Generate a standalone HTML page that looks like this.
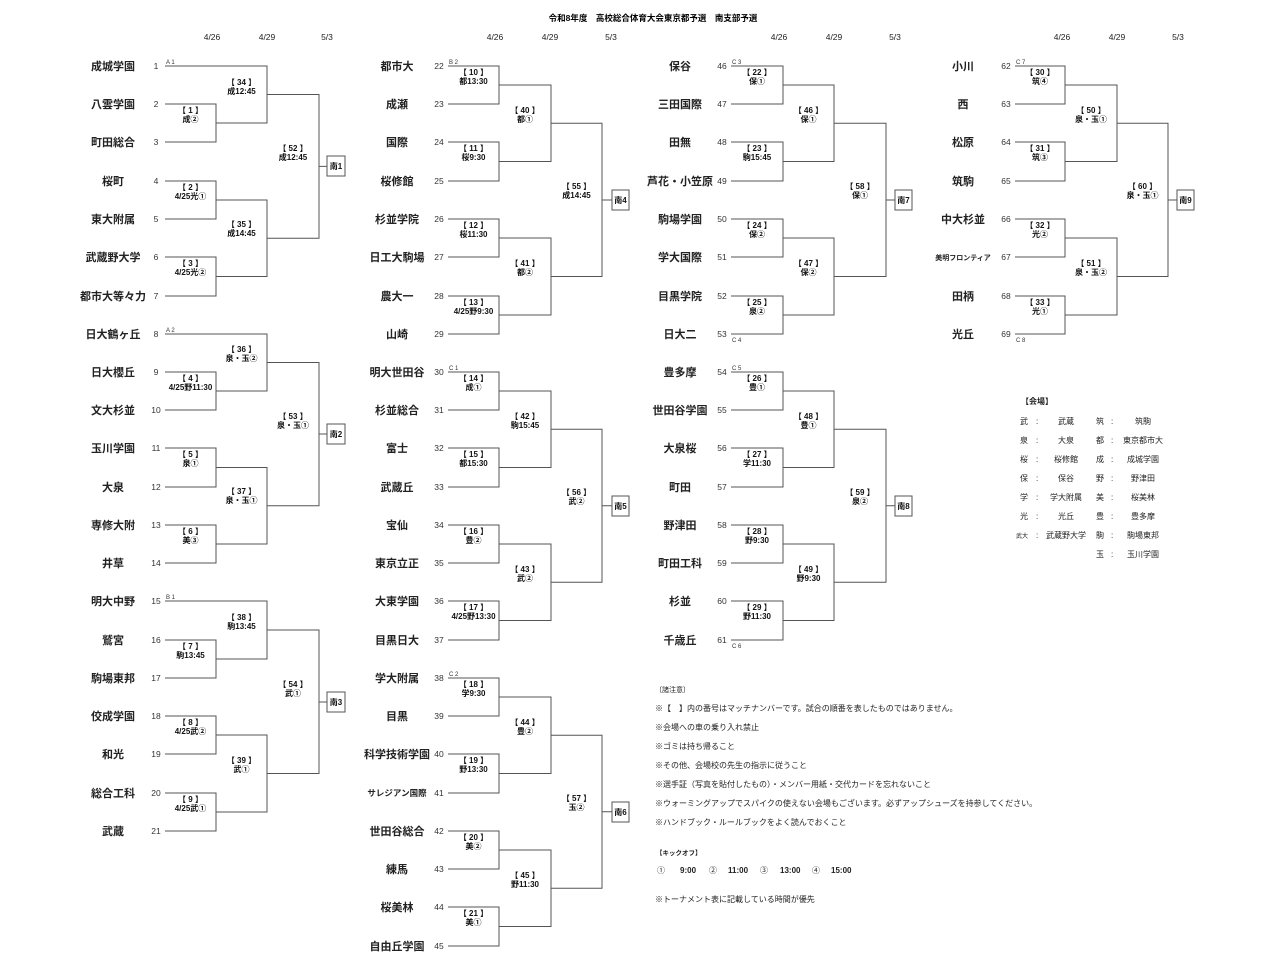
<!DOCTYPE html>
<html><head><meta charset="utf-8"><style>
html,body{margin:0;padding:0;background:#fff;}
svg{display:block;font-family:"Liberation Sans","Noto Sans CJK JP",sans-serif;}
.n{font-size:11px;font-weight:bold;text-anchor:middle;fill:#222}
.s{font-size:7.5px;font-weight:bold;text-anchor:middle;fill:#222}
.k{font-size:8.5px;text-anchor:middle;fill:#333}
.m{font-size:8px;font-weight:bold;text-anchor:middle;fill:#111}
.g{font-size:6px;fill:#333}
.d{font-size:8.5px;text-anchor:middle;fill:#222}
.b{font-size:8px;font-weight:bold;text-anchor:middle;fill:#111}
.t{font-size:8px;fill:#222}
.lg{font-size:8px;fill:#222}
.lc{font-size:8px;fill:#222;text-anchor:middle}
</style></head><body>
<svg width="1280" height="970" viewBox="0 0 1280 970" xmlns="http://www.w3.org/2000/svg">
<text x="653" y="21" style="font-size:8.5px;font-weight:bold;text-anchor:middle">令和8年度　高校総合体育大会東京都予選　南支部予選</text>
<g class="d">
<text x="212" y="40">4/26</text><text x="267" y="40">4/29</text><text x="327" y="40">5/3</text>
<text x="495" y="40">4/26</text><text x="550" y="40">4/29</text><text x="611" y="40">5/3</text>
<text x="779" y="40">4/26</text><text x="834" y="40">4/29</text><text x="895" y="40">5/3</text>
<text x="1062" y="40">4/26</text><text x="1117" y="40">4/29</text><text x="1178" y="40">5/3</text>
</g>
<g fill="none" stroke="#555" stroke-width="1">
<path d="M165 66H267V123H216M165 104H216V142H165M165 181H216V219H165M165 257H216V296H165M216 200H267V276.5H216M267 94.5H319V238.25H267M319 166.4H327"/>
<path d="M165 334H267V391H216M165 372H216V410H165M165 448H216V487H165M165 525H216V563H165M216 467.5H267V544H216M267 362.5H319V505.75H267M319 434H327"/>
<path d="M165 601H267V659H216M165 640H216V678H165M165 716H216V754H165M165 793H216V831H165M216 735H267V812H216M267 630H319V773.5H267M319 702H327"/>
<path d="M448 66H499V104H448M448 142H499V181H448M448 219H499V257H448M448 296H499V334H448M499 85H551V161.5H499M499 238H551V315H499M551 123.25H602V276.5H551M602 200H612"/>
<path d="M448 372H499V410H448M448 448H499V487H448M448 525H499V563H448M448 601H499V640H448M499 391H551V467.5H499M499 544H551V620.5H499M551 429.25H602V582.25H551M602 505.75H612"/>
<path d="M448 678H499V716H448M448 754H499V793H448M448 831H499V869H448M448 907H499V946H448M499 697H551V773.5H499M499 850H551V926.5H499M551 735.25H602V888.25H551M602 811.75H612"/>
<path d="M731 66H783V104H731M731 142H783V181H731M731 219H783V257H731M731 296H783V334H731M783 85H834V161.5H783M783 238H834V315H783M834 123.25H886V276.5H834M886 200H895"/>
<path d="M731 372H783V410H731M731 448H783V487H731M731 525H783V563H731M731 601H783V640H731M783 391H834V467.5H783M783 544H834V620.5H783M834 429.25H886V582.25H834M886 505.75H895"/>
<path d="M1015 66H1065V104H1015M1015 142H1065V181H1015M1015 219H1065V257H1015M1015 296H1065V334H1015M1065 85H1117V161.5H1065M1065 238H1117V315H1065M1117 123.25H1168V276.5H1117M1168 200H1177"/>
<rect x="327" y="156" width="18" height="20"/><rect x="327" y="424" width="18" height="20"/><rect x="327" y="692" width="18" height="20"/>
<rect x="612" y="190" width="17" height="20"/><rect x="612" y="496" width="17" height="20"/><rect x="612" y="802" width="17" height="20"/>
<rect x="895" y="190" width="17" height="20"/><rect x="895" y="496" width="17" height="20"/>
<rect x="1177" y="190" width="17" height="20"/>
</g>
<g class="b">
<text x="336" y="169">南1</text><text x="336" y="437">南2</text><text x="336" y="705">南3</text>
<text x="620.5" y="203">南4</text><text x="620.5" y="509">南5</text><text x="620.5" y="815">南6</text>
<text x="903.5" y="203">南7</text><text x="903.5" y="509">南8</text><text x="1185.5" y="203">南9</text>
</g>
<g class="g">
<text x="166" y="64">A 1</text><text x="166" y="332">A 2</text><text x="166" y="599">B 1</text>
<text x="449" y="64">B 2</text><text x="449" y="370">C 1</text><text x="449" y="676">C 2</text>
<text x="732" y="64">C 3</text><text x="732" y="342">C 4</text><text x="732" y="370">C 5</text><text x="732" y="648">C 6</text>
<text x="1016" y="64">C 7</text><text x="1016" y="342">C 8</text>
</g>
<!-- names col1 -->
<g class="n">
<text x="113" y="70">成城学園</text><text x="113" y="108">八雲学園</text><text x="113" y="146">町田総合</text><text x="113" y="185">桜町</text><text x="113" y="223">東大附属</text><text x="113" y="261">武蔵野大学</text><text x="113" y="300">都市大等々力</text>
<text x="113" y="338">日大鶴ヶ丘</text><text x="113" y="376">日大櫻丘</text><text x="113" y="414">文大杉並</text><text x="113" y="452">玉川学園</text><text x="113" y="491">大泉</text><text x="113" y="529">専修大附</text><text x="113" y="567">井草</text>
<text x="113" y="605">明大中野</text><text x="113" y="644">鷲宮</text><text x="113" y="682">駒場東邦</text><text x="113" y="720">佼成学園</text><text x="113" y="758">和光</text><text x="113" y="797">総合工科</text><text x="113" y="835">武蔵</text>
<text x="397" y="70">都市大</text><text x="397" y="108">成瀬</text><text x="397" y="146">国際</text><text x="397" y="185">桜修館</text><text x="397" y="223">杉並学院</text><text x="397" y="261">日工大駒場</text><text x="397" y="300">農大一</text><text x="397" y="338">山崎</text>
<text x="397" y="376">明大世田谷</text><text x="397" y="414">杉並総合</text><text x="397" y="452">富士</text><text x="397" y="491">武蔵丘</text><text x="397" y="529">宝仙</text><text x="397" y="567">東京立正</text><text x="397" y="605">大東学園</text><text x="397" y="644">目黒日大</text>
<text x="397" y="682">学大附属</text><text x="397" y="720">目黒</text><text x="397" y="758">科学技術学園</text><text x="397" y="835">世田谷総合</text><text x="397" y="873">練馬</text><text x="397" y="911">桜美林</text><text x="397" y="950">自由丘学園</text>
<text x="680" y="70">保谷</text><text x="680" y="108">三田国際</text><text x="680" y="146">田無</text><text x="680" y="185">芦花・小笠原</text><text x="680" y="223">駒場学園</text><text x="680" y="261">学大国際</text><text x="680" y="300">目黒学院</text><text x="680" y="338">日大二</text>
<text x="680" y="376">豊多摩</text><text x="680" y="414">世田谷学園</text><text x="680" y="452">大泉桜</text><text x="680" y="491">町田</text><text x="680" y="529">野津田</text><text x="680" y="567">町田工科</text><text x="680" y="605">杉並</text><text x="680" y="644">千歳丘</text>
<text x="963" y="70">小川</text><text x="963" y="108">西</text><text x="963" y="146">松原</text><text x="963" y="185">筑駒</text><text x="963" y="223">中大杉並</text><text x="963" y="300">田柄</text><text x="963" y="338">光丘</text>
</g>
<text class="s" x="397" y="796" style="font-size:8.5px">サレジアン国際</text>
<text class="s" x="963" y="260" style="font-size:7px">美明フロンティア</text>
<g class="k">
<text x="156" y="69">1</text><text x="156" y="107">2</text><text x="156" y="145">3</text><text x="156" y="184">4</text><text x="156" y="222">5</text><text x="156" y="260">6</text><text x="156" y="299">7</text>
<text x="156" y="337">8</text><text x="156" y="375">9</text><text x="156" y="413">10</text><text x="156" y="451">11</text><text x="156" y="490">12</text><text x="156" y="528">13</text><text x="156" y="566">14</text>
<text x="156" y="604">15</text><text x="156" y="643">16</text><text x="156" y="681">17</text><text x="156" y="719">18</text><text x="156" y="757">19</text><text x="156" y="796">20</text><text x="156" y="834">21</text>
<text x="439" y="69">22</text><text x="439" y="107">23</text><text x="439" y="145">24</text><text x="439" y="184">25</text><text x="439" y="222">26</text><text x="439" y="260">27</text><text x="439" y="299">28</text><text x="439" y="337">29</text>
<text x="439" y="375">30</text><text x="439" y="413">31</text><text x="439" y="451">32</text><text x="439" y="490">33</text><text x="439" y="528">34</text><text x="439" y="566">35</text><text x="439" y="604">36</text><text x="439" y="643">37</text>
<text x="439" y="681">38</text><text x="439" y="719">39</text><text x="439" y="757">40</text><text x="439" y="796">41</text><text x="439" y="834">42</text><text x="439" y="872">43</text><text x="439" y="910">44</text><text x="439" y="949">45</text>
<text x="722" y="69">46</text><text x="722" y="107">47</text><text x="722" y="145">48</text><text x="722" y="184">49</text><text x="722" y="222">50</text><text x="722" y="260">51</text><text x="722" y="299">52</text><text x="722" y="337">53</text>
<text x="722" y="375">54</text><text x="722" y="413">55</text><text x="722" y="451">56</text><text x="722" y="490">57</text><text x="722" y="528">58</text><text x="722" y="566">59</text><text x="722" y="604">60</text><text x="722" y="643">61</text>
<text x="1006" y="69">62</text><text x="1006" y="107">63</text><text x="1006" y="145">64</text><text x="1006" y="184">65</text><text x="1006" y="222">66</text><text x="1006" y="260">67</text><text x="1006" y="299">68</text><text x="1006" y="337">69</text>
</g>
<g class="m">
<!-- col1 r1 -->
<text x="190.5" y="113">【 1 】</text><text x="190.5" y="122">成②</text>
<text x="190.5" y="190">【 2 】</text><text x="190.5" y="199">4/25光①</text>
<text x="190.5" y="266">【 3 】</text><text x="190.5" y="275">4/25光②</text>
<text x="190.5" y="381">【 4 】</text><text x="190.5" y="390">4/25野11:30</text>
<text x="190.5" y="457">【 5 】</text><text x="190.5" y="466">泉①</text>
<text x="190.5" y="534">【 6 】</text><text x="190.5" y="543">美③</text>
<text x="190.5" y="649">【 7 】</text><text x="190.5" y="658">駒13:45</text>
<text x="190.5" y="725">【 8 】</text><text x="190.5" y="734">4/25武②</text>
<text x="190.5" y="802">【 9 】</text><text x="190.5" y="811">4/25武①</text>
<text x="241.5" y="85">【 34 】</text><text x="241.5" y="94">成12:45</text>
<text x="241.5" y="227">【 35 】</text><text x="241.5" y="236">成14:45</text>
<text x="241.5" y="352">【 36 】</text><text x="241.5" y="361">泉・玉②</text>
<text x="241.5" y="494">【 37 】</text><text x="241.5" y="503">泉・玉①</text>
<text x="241.5" y="620">【 38 】</text><text x="241.5" y="629">駒13:45</text>
<text x="241.5" y="763">【 39 】</text><text x="241.5" y="772">武①</text>
<text x="293" y="151">【 52 】</text><text x="293" y="160">成12:45</text>
<text x="293" y="419">【 53 】</text><text x="293" y="428">泉・玉①</text>
<text x="293" y="687">【 54 】</text><text x="293" y="696">武①</text>
<!-- col2 -->
<text x="473.5" y="75">【 10 】</text><text x="473.5" y="84">都13:30</text>
<text x="473.5" y="151">【 11 】</text><text x="473.5" y="160">桜9:30</text>
<text x="473.5" y="228">【 12 】</text><text x="473.5" y="237">桜11:30</text>
<text x="473.5" y="305">【 13 】</text><text x="473.5" y="314">4/25野9:30</text>
<text x="473.5" y="381">【 14 】</text><text x="473.5" y="390">成①</text>
<text x="473.5" y="457">【 15 】</text><text x="473.5" y="466">都15:30</text>
<text x="473.5" y="534">【 16 】</text><text x="473.5" y="543">豊②</text>
<text x="473.5" y="610">【 17 】</text><text x="473.5" y="619">4/25野13:30</text>
<text x="473.5" y="687">【 18 】</text><text x="473.5" y="696">学9:30</text>
<text x="473.5" y="763">【 19 】</text><text x="473.5" y="772">野13:30</text>
<text x="473.5" y="840">【 20 】</text><text x="473.5" y="849">美②</text>
<text x="473.5" y="916">【 21 】</text><text x="473.5" y="925">美①</text>
<text x="525" y="113">【 40 】</text><text x="525" y="122">都①</text>
<text x="525" y="266">【 41 】</text><text x="525" y="275">都②</text>
<text x="525" y="419">【 42 】</text><text x="525" y="428">駒15:45</text>
<text x="525" y="572">【 43 】</text><text x="525" y="581">武②</text>
<text x="525" y="725">【 44 】</text><text x="525" y="734">豊②</text>
<text x="525" y="878">【 45 】</text><text x="525" y="887">野11:30</text>
<text x="576.5" y="189">【 55 】</text><text x="576.5" y="198">成14:45</text>
<text x="576.5" y="495">【 56 】</text><text x="576.5" y="504">武②</text>
<text x="576.5" y="801">【 57 】</text><text x="576.5" y="810">玉②</text>
<!-- col3 -->
<text x="757" y="75">【 22 】</text><text x="757" y="84">保①</text>
<text x="757" y="151">【 23 】</text><text x="757" y="160">駒15:45</text>
<text x="757" y="228">【 24 】</text><text x="757" y="237">保②</text>
<text x="757" y="305">【 25 】</text><text x="757" y="314">泉②</text>
<text x="757" y="381">【 26 】</text><text x="757" y="390">豊①</text>
<text x="757" y="457">【 27 】</text><text x="757" y="466">学11:30</text>
<text x="757" y="534">【 28 】</text><text x="757" y="543">野9:30</text>
<text x="757" y="610">【 29 】</text><text x="757" y="619">野11:30</text>
<text x="808.5" y="113">【 46 】</text><text x="808.5" y="122">保①</text>
<text x="808.5" y="266">【 47 】</text><text x="808.5" y="275">保②</text>
<text x="808.5" y="419">【 48 】</text><text x="808.5" y="428">豊①</text>
<text x="808.5" y="572">【 49 】</text><text x="808.5" y="581">野9:30</text>
<text x="860" y="189">【 58 】</text><text x="860" y="198">保①</text>
<text x="860" y="495">【 59 】</text><text x="860" y="504">泉②</text>
<!-- col4 -->
<text x="1040" y="75">【 30 】</text><text x="1040" y="84">筑④</text>
<text x="1040" y="151">【 31 】</text><text x="1040" y="160">筑③</text>
<text x="1040" y="228">【 32 】</text><text x="1040" y="237">光②</text>
<text x="1040" y="305">【 33 】</text><text x="1040" y="314">光①</text>
<text x="1091" y="113">【 50 】</text><text x="1091" y="122">泉・玉①</text>
<text x="1091" y="266">【 51 】</text><text x="1091" y="275">泉・玉②</text>
<text x="1142.5" y="189">【 60 】</text><text x="1142.5" y="198">泉・玉①</text>
</g>
<!-- legend -->
<text class="lg" x="1021" y="404" style="font-weight:bold">【会場】</text>
<g class="lg">
<text x="1020" y="424">武</text><text x="1036" y="424">:</text>
<text x="1020" y="443">泉</text><text x="1036" y="443">:</text>
<text x="1020" y="462">桜</text><text x="1036" y="462">:</text>
<text x="1020" y="481">保</text><text x="1036" y="481">:</text>
<text x="1020" y="500">学</text><text x="1036" y="500">:</text>
<text x="1020" y="519">光</text><text x="1036" y="519">:</text>
<text x="1016" y="538" style="font-size:6px">武大</text><text x="1036" y="538">:</text>
<text x="1096" y="424">筑</text><text x="1111" y="424">:</text>
<text x="1096" y="443">都</text><text x="1111" y="443">:</text>
<text x="1096" y="462">成</text><text x="1111" y="462">:</text>
<text x="1096" y="481">野</text><text x="1111" y="481">:</text>
<text x="1096" y="500">美</text><text x="1111" y="500">:</text>
<text x="1096" y="519">豊</text><text x="1111" y="519">:</text>
<text x="1096" y="538">駒</text><text x="1111" y="538">:</text>
<text x="1096" y="557">玉</text><text x="1111" y="557">:</text>
</g>
<g class="lc">
<text x="1066" y="424">武蔵</text><text x="1066" y="443">大泉</text><text x="1066" y="462">桜修館</text><text x="1066" y="481">保谷</text><text x="1066" y="500">学大附属</text><text x="1066" y="519">光丘</text><text x="1066" y="538">武蔵野大学</text>
<text x="1143" y="424">筑駒</text><text x="1143" y="443">東京都市大</text><text x="1143" y="462">成城学園</text><text x="1143" y="481">野津田</text><text x="1143" y="500">桜美林</text><text x="1143" y="519">豊多摩</text><text x="1143" y="538">駒場東邦</text><text x="1143" y="557">玉川学園</text>
</g>
<!-- notes -->
<g class="t">
<text x="655" y="692" style="font-size:7px">〔諸注意〕</text>
<text x="655" y="711">※【　】内の番号はマッチナンバーです。試合の順番を表したものではありません。</text>
<text x="655" y="730">※会場への車の乗り入れ禁止</text>
<text x="655" y="749">※ゴミは持ち帰ること</text>
<text x="655" y="768">※その他、会場校の先生の指示に従うこと</text>
<text x="655" y="787">※選手証（写真を貼付したもの）・メンバー用紙・交代カードを忘れないこと</text>
<text x="655" y="806">※ウォーミングアップでスパイクの使えない会場もございます。必ずアップシューズを持参してください。</text>
<text x="655" y="825">※ハンドブック・ルールブックをよく読んでおくこと</text>
<text x="656" y="855" style="font-size:6.5px;font-weight:bold">【キックオフ】</text>
<text x="657" y="873">①</text><text x="680" y="873" style="font-weight:bold">9:00</text>
<text x="709" y="873">②</text><text x="728" y="873" style="font-weight:bold">11:00</text>
<text x="760" y="873">③</text><text x="780" y="873" style="font-weight:bold">13:00</text>
<text x="812" y="873">④</text><text x="831" y="873" style="font-weight:bold">15:00</text>
<text x="655" y="902">※トーナメント表に記載している時間が優先</text>
</g>
</svg>
</body></html>
